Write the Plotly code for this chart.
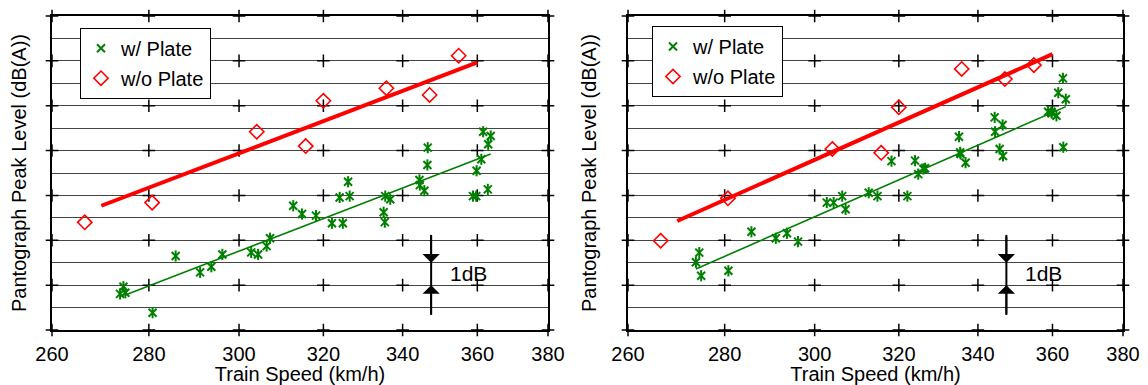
import math
import plotly.graph_objects as go

# ---------------- data ----------------
x_ticks = [260, 280, 300, 320, 340, 360, 380]
x_tick_labels = ["260", "280", "300", "320", "340", "360", "380"]
y_major = [0, 2, 4, 6, 8, 10, 12, 14]

# w/o Plate (red diamonds)
speed_noplate = [266.6, 280.7, 304.1, 315.7, 320.0, 335.8, 347.1, 354.9]
level_noplate_left = [4.80, 5.68, 8.84, 8.20, 10.22, 10.78, 10.48, 12.23]
level_noplate_right = [3.98, 5.87, 8.07, 7.90, 9.93, 11.64, 11.19, 11.81]

# w/ Plate (green stars)
speed_plate = [273.9, 274.6, 275.0, 280.8, 285.8, 291.2, 293.7, 296.2, 302.8, 304.4,
               306.4, 307.2, 312.7, 314.8, 318.2, 322.1, 324.0, 324.8, 326.1, 326.5,
               335.1, 335.4, 335.5, 336.8, 344.4, 344.5, 345.7, 346.5, 346.6, 358.8,
               359.7, 359.8, 361.1, 361.6, 362.9, 363.0, 363.7]
level_plate_left = [1.61, 1.93, 1.66, 0.77, 3.30, 2.57, 2.82, 3.37, 3.46, 3.37,
                    3.74, 4.09, 5.54, 5.17, 5.10, 4.76, 5.91, 4.76, 6.61, 5.97,
                    5.25, 4.81, 5.97, 5.83, 6.69, 6.46, 6.21, 7.36, 8.13, 5.97,
                    5.97, 7.10, 7.61, 8.84, 6.27, 8.28, 8.65]
level_plate_right = [3.02, 3.45, 2.42, 2.64, 4.38, 4.09, 4.31, 3.94, 5.68, 5.68,
                     5.97, 5.38, 6.12, 5.97, 7.53, 5.97, 7.55, 6.95, 7.18, 7.21,
                     8.62, 7.92, 7.85, 7.46, 9.48, 8.84, 8.07, 9.14, 7.76, 9.73,
                     9.73, 9.67, 9.55, 10.58, 11.22, 8.15, 10.29]

# trend lines
fit_speed_red = [270.0, 360.0]
fit_level_red_left = [5.54, 11.93]
fit_level_red_right = [4.86, 12.30]
fit_speed_green_left = [275.0, 363.7]
fit_level_green_left = [1.56, 7.85]
fit_speed_green_right = [273.9, 363.7]
fit_level_green_right = [2.72, 9.96]

# 1 dB scale bracket
bracket_speed = 347.5
bracket_range = [0.67, 4.24]
bracket_tips = [3.0, 2.0]
bracket_label = "1dB"
bracket_label_speed = 352.0
bracket_label_level = 2.5

GREEN = "#008000"
RED = "#ff0000"
FONT = "Arial, Liberation Sans, sans-serif"

fig = go.Figure()

panels = [
    dict(xa="x", ya="y", leg="legend", lp=level_plate_left, ln=level_noplate_left,
         fr=fit_level_red_left, gs=fit_speed_green_left, gl=fit_level_green_left),
    dict(xa="x2", ya="y2", leg="legend2", lp=level_plate_right, ln=level_noplate_right,
         fr=fit_level_red_right, gs=fit_speed_green_right, gl=fit_level_green_right),
]

annotations = []
for p in panels:
    xa, ya = p["xa"], p["ya"]
    # "+" tick crosses at major grid intersections
    fig.add_trace(go.Scatter(
        x=[xt for xt in x_ticks for _ in y_major],
        y=[ym for _ in x_ticks for ym in y_major],
        mode="markers", xaxis=xa, yaxis=ya, showlegend=False, hoverinfo="skip",
        cliponaxis=False,
        marker=dict(symbol="cross-thin-open", size=9, color="black",
                    line=dict(width=1.5, color="black"))))
    # trend lines
    fig.add_trace(go.Scatter(x=fit_speed_red, y=p["fr"], mode="lines", xaxis=xa, yaxis=ya,
                             line=dict(color=RED, width=4), showlegend=False, hoverinfo="skip"))
    fig.add_trace(go.Scatter(x=p["gs"], y=p["gl"], mode="lines", xaxis=xa, yaxis=ya,
                             line=dict(color=GREEN, width=1.6), showlegend=False, hoverinfo="skip"))
    # w/ Plate star markers (x + vertical bar)
    fig.add_trace(go.Scatter(x=speed_plate, y=p["lp"], mode="markers", xaxis=xa, yaxis=ya,
                             name="w/ Plate", legend=p["leg"], legendgroup="a",
                             marker=dict(symbol="x-thin-open", size=8, color=GREEN,
                                         line=dict(width=2, color=GREEN))))
    fig.add_trace(go.Scatter(x=speed_plate, y=p["lp"], mode="markers", xaxis=xa, yaxis=ya,
                             showlegend=False, legendgroup="a", hoverinfo="skip",
                             marker=dict(symbol="line-ns-open", size=8, color=GREEN,
                                         line=dict(width=2, color=GREEN))))
    # w/o Plate diamonds
    fig.add_trace(go.Scatter(x=speed_noplate, y=p["ln"], mode="markers", xaxis=xa, yaxis=ya,
                             name="w/o Plate", legend=p["leg"], legendgroup="b",
                             marker=dict(symbol="diamond-open", size=11, color=RED,
                                         line=dict(width=1.6, color=RED))))
    # bracket line
    fig.add_trace(go.Scatter(x=[bracket_speed, bracket_speed], y=bracket_range, mode="lines",
                             xaxis=xa, yaxis=ya, line=dict(color="black", width=2),
                             showlegend=False, hoverinfo="skip"))
    lx = math.log10(bracket_speed)
    annotations.append(dict(x=lx, y=bracket_tips[0], ax=lx, ay=bracket_range[1],
                            xref=xa, yref=ya, axref=xa, ayref=ya, text="", showarrow=True,
                            arrowhead=1, arrowsize=1.6, arrowwidth=1.8, arrowcolor="black"))
    annotations.append(dict(x=lx, y=bracket_tips[1], ax=lx, ay=bracket_range[0],
                            xref=xa, yref=ya, axref=xa, ayref=ya, text="", showarrow=True,
                            arrowhead=1, arrowsize=1.6, arrowwidth=1.8, arrowcolor="black"))
    annotations.append(dict(x=math.log10(bracket_label_speed), y=bracket_label_level,
                            xref=xa, yref=ya, text=bracket_label, showarrow=False,
                            xanchor="left", yanchor="middle",
                            font=dict(size=21, color="black", family=FONT)))

CLEAR = "rgba(0,0,0,0)"
xaxis_common = dict(type="log", range=[math.log10(260), math.log10(380)],
                    tickmode="array", tickvals=x_ticks, ticktext=x_tick_labels,
                    showgrid=False, zeroline=False, showline=True, mirror=True,
                    linecolor="black", linewidth=1.5,
                    ticks="outside", ticklen=5, tickcolor=CLEAR, automargin=False,
                    tickfont=dict(size=20, color="black", family=FONT),
                    title=dict(text="Train Speed (km/h)",
                               font=dict(size=20, color="black", family=FONT)))
yaxis_common = dict(range=[0, 14], dtick=1, tick0=0, showticklabels=False,
                    ticks="outside", ticklen=9, tickcolor=CLEAR,
                    showgrid=True, gridcolor="#444444", gridwidth=1, zeroline=False,
                    showline=True, mirror=True, linecolor="black", linewidth=1.5,
                    automargin=False,
                    title=dict(text="Pantograph Peak Level (dB(A))",
                               font=dict(size=20, color="black", family=FONT)))

legend_common = dict(bgcolor="white", bordercolor="black", borderwidth=1,
                     font=dict(size=20, color="black", family=FONT),
                     xanchor="left", yanchor="top", tracegroupgap=1,
                     traceorder="grouped", itemwidth=30)

# The page body has an 8px margin; lay out in window pixels and shift.
OFF = 8
WIN_W, WIN_H = 1148, 385
W, H = WIN_W - OFF, WIN_H - OFF
PLOT_TOP, PLOT_BOTTOM = 16, 330


def px(v):
    return (v - OFF) / W


def py(v):
    return (PLOT_BOTTOM - v) / (PLOT_BOTTOM - PLOT_TOP)


fig.update_layout(
    width=W, height=H,
    margin=dict(l=0, r=0, t=PLOT_TOP - OFF, b=H - (PLOT_BOTTOM - OFF), autoexpand=False),
    paper_bgcolor="white", plot_bgcolor="white",
    xaxis=dict(domain=[px(52), px(548)], anchor="y", **xaxis_common),
    yaxis=dict(domain=[0, 1], anchor="x", **yaxis_common),
    xaxis2=dict(domain=[px(628), px(1123)], anchor="y2", **xaxis_common),
    yaxis2=dict(domain=[0, 1], anchor="x2", **yaxis_common),
    legend=dict(x=px(80), y=py(27.7), **legend_common),
    legend2=dict(x=px(652), y=py(26), **legend_common),
    annotations=annotations,
    showlegend=True,
)

fig.write_html("out.html")
